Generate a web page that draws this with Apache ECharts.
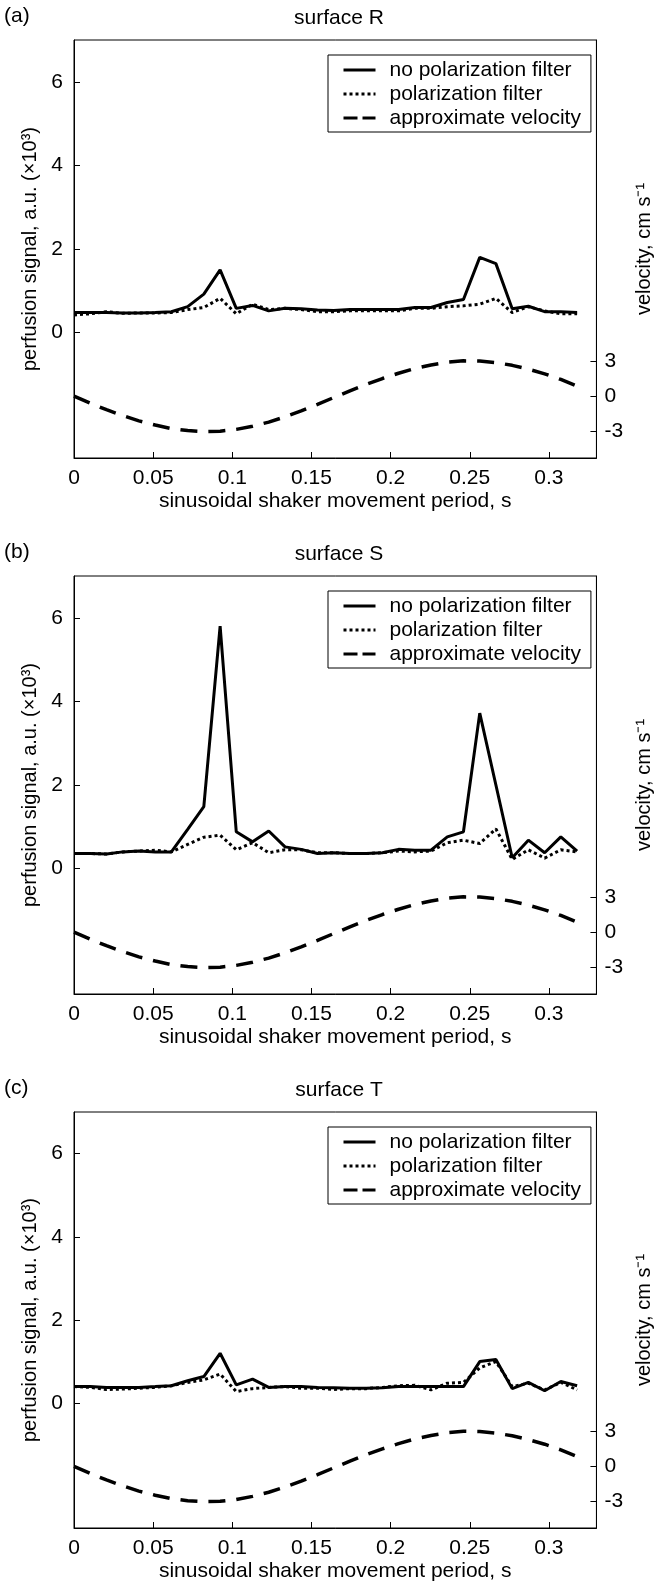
<!DOCTYPE html>
<html>
<head>
<meta charset="utf-8">
<script src="https://cdn.jsdelivr.net/npm/echarts@6/dist/echarts.min.js"></script>
<style>
  html, body { margin: 0; padding: 0; background: #fff; }
  #chart { width: 662px; height: 1583px; }
</style>
</head>
<body>
<div id="chart"></div>
<script>
// sample times of the shaker period (s)
const xValues = [0, 0.0103, 0.0205, 0.0308, 0.041, 0.0513, 0.0615, 0.0718, 0.082, 0.0923,
  0.1025, 0.1128, 0.123, 0.1333, 0.1435, 0.1538, 0.164, 0.1743, 0.1845, 0.1948,
  0.205, 0.2153, 0.2255, 0.2358, 0.246, 0.2563, 0.2665, 0.2768, 0.287, 0.2973, 0.3075, 0.3178];

// approximate velocity, cm/s (same in every panel)
const velocity = [0, -0.6, -1.15, -1.65, -2.1, -2.45, -2.75, -2.92, -3.0, -2.97,
  -2.82, -2.55, -2.2, -1.75, -1.25, -0.7, -0.12, 0.45, 1.0, 1.5,
  1.95, 2.35, 2.65, 2.88, 3.0, 2.98, 2.85, 2.62, 2.3, 1.9, 1.42, 0.85];

// surface R
const noFilterR = [0.48, 0.48, 0.48, 0.47, 0.47, 0.48, 0.5, 0.62, 0.92, 1.5,
  0.58, 0.65, 0.52, 0.58, 0.57, 0.54, 0.53, 0.55, 0.55, 0.55,
  0.55, 0.6, 0.6, 0.72, 0.79, 1.8, 1.65, 0.57, 0.63, 0.5, 0.5, 0.48];
const filterR = [0.42, 0.45, 0.5, 0.46, 0.47, 0.47, 0.48, 0.55, 0.6, 0.82,
  0.45, 0.68, 0.55, 0.58, 0.55, 0.5, 0.5, 0.52, 0.52, 0.52,
  0.52, 0.58, 0.58, 0.62, 0.64, 0.68, 0.82, 0.48, 0.62, 0.52, 0.45, 0.45];

// surface S
const noFilterS = [0.36, 0.36, 0.35, 0.4, 0.42, 0.4, 0.4, 0.94, 1.48, 5.8,
  0.88, 0.64, 0.9, 0.52, 0.46, 0.36, 0.38, 0.36, 0.36, 0.38,
  0.46, 0.44, 0.44, 0.76, 0.88, 3.72, 2.0, 0.26, 0.68, 0.38, 0.76, 0.42];
const filterS = [0.36, 0.36, 0.35, 0.4, 0.42, 0.44, 0.4, 0.58, 0.75, 0.8,
  0.45, 0.62, 0.38, 0.45, 0.45, 0.38, 0.38, 0.36, 0.36, 0.38,
  0.42, 0.4, 0.42, 0.62, 0.68, 0.6, 0.95, 0.22, 0.45, 0.25, 0.45, 0.4];

// surface T
const noFilterT = [0.4, 0.4, 0.38, 0.38, 0.38, 0.4, 0.42, 0.54, 0.64, 1.2,
  0.44, 0.58, 0.38, 0.4, 0.4, 0.38, 0.37, 0.36, 0.36, 0.37,
  0.4, 0.4, 0.4, 0.4, 0.4, 1.0, 1.05, 0.35, 0.5, 0.3, 0.52, 0.42];
const filterT = [0.4, 0.38, 0.33, 0.34, 0.36, 0.38, 0.42, 0.5, 0.56, 0.7,
  0.28, 0.35, 0.38, 0.4, 0.36, 0.36, 0.33, 0.35, 0.35, 0.38,
  0.42, 0.43, 0.32, 0.48, 0.5, 0.85, 1.0, 0.4, 0.48, 0.32, 0.5, 0.32];

// tick labels
const xTicks = [0, 0.05, 0.1, 0.15, 0.2, 0.25, 0.3];
const leftTicks = [0, 2, 4, 6];
const rightTicks = [-3, 0, 3];

const seriesNames = ['no polarization filter', 'polarization filter', 'approximate velocity'];

const panels = [
  { letter: '(a)', title: 'surface R', noFilter: noFilterR, filter: filterR },
  { letter: '(b)', title: 'surface S', noFilter: noFilterS, filter: filterS },
  { letter: '(c)', title: 'surface T', noFilter: noFilterT, filter: filterT }
];

const FONT = 'Liberation Sans';
const gridTops = [40, 576, 1112];
const gridLeft = 74, gridWidth = 530, gridHeight = 418;

const txt = { color: '#000', fontFamily: FONT, fontSize: 21 };
const nameTxt = { color: '#000', fontFamily: FONT, fontSize: 20 };

function pairs(arr) {
  return xValues.map((x, i) => [x, arr[i]]);
}

const chart = echarts.init(document.getElementById('chart'));

const option = {
  backgroundColor: '#fff',
  animation: false,
  title: [],
  legend: [],
  grid: [],
  xAxis: [],
  yAxis: [],
  series: []
};

panels.forEach((p, k) => {
  const top = gridTops[k];
  option.title.push({
    text: p.title, left: gridLeft + gridWidth / 2, top: top - 32, textAlign: 'center',
    padding: 0, textStyle: Object.assign({ fontWeight: 'normal' }, txt)
  });
  option.title.push({
    text: p.letter, left: 4, top: top - 34, padding: 0,
    textStyle: Object.assign({ fontWeight: 'normal' }, txt)
  });
  option.grid.push({
    left: gridLeft, top: top, width: gridWidth, height: gridHeight,
    show: true, borderColor: '#000', borderWidth: 1, backgroundColor: 'transparent'
  });
  // legend box in the upper right corner of each panel
  option.legend.push({
    data: [
      seriesNames[0],
      seriesNames[1],
      { name: seriesNames[2], lineStyle: { type: [14, 5] } }
    ],
    orient: 'vertical', left: 328, top: top + 15,
    itemWidth: 32, itemHeight: 14, itemGap: 2, padding: [4, 10, 3, 14],
    borderColor: '#000', borderWidth: 1, backgroundColor: '#fff',
    selectedMode: false,
    itemStyle: { opacity: 0 },
    lineStyle: { width: 3 },
    textStyle: Object.assign({ padding: [0, 0, 0, 9], lineHeight: 22 }, txt)
  });
  option.xAxis.push({
    type: 'value', gridIndex: k, min: 0, max: 0.33,
    name: 'sinusoidal shaker movement period, s', nameLocation: 'middle', nameGap: 33,
    nameTextStyle: txt,
    axisLine: { show: true, onZero: false, lineStyle: { color: '#000', width: 1 } },
    axisTick: { show: true, inside: true, length: 6, customValues: xTicks, lineStyle: { color: '#000' } },
    axisLabel: Object.assign({ customValues: xTicks, margin: 10, formatter: v => String(+v.toFixed(2)) }, txt),
    splitLine: { show: false }
  });
  option.yAxis.push({
    type: 'value', gridIndex: k, position: 'left', min: -3, max: 7,
    name: 'perfusion signal, a.u. (×10³)', nameLocation: 'middle', nameRotate: 90, nameGap: 32,
    nameTextStyle: nameTxt,
    axisLine: { show: true, onZero: false, lineStyle: { color: '#000', width: 1 } },
    axisTick: { show: true, inside: true, length: 6, customValues: leftTicks, lineStyle: { color: '#000' } },
    axisLabel: Object.assign({ customValues: leftTicks, margin: 11 }, txt),
    splitLine: { show: false }
  });
  option.yAxis.push({
    type: 'value', gridIndex: k, position: 'right', min: -5.25, max: 30.25,
    name: 'velocity, cm s⁻¹', nameLocation: 'middle', nameRotate: 90, nameGap: 30,
    nameTextStyle: nameTxt,
    axisLine: { show: true, onZero: false, lineStyle: { color: '#000', width: 1 } },
    axisTick: { show: true, inside: true, length: 6, customValues: rightTicks, lineStyle: { color: '#000' } },
    axisLabel: Object.assign({ customValues: rightTicks, margin: 8 }, txt),
    splitLine: { show: false }
  });
  const base = { type: 'line', xAxisIndex: k, symbol: 'none', silent: true };
  option.series.push(Object.assign({}, base, {
    name: seriesNames[0], yAxisIndex: 2 * k, data: pairs(p.noFilter), z: 3,
    lineStyle: { color: '#000', width: 3, type: 'solid' }, itemStyle: { color: '#000' }
  }));
  option.series.push(Object.assign({}, base, {
    name: seriesNames[1], yAxisIndex: 2 * k, data: pairs(p.filter), z: 2,
    lineStyle: { color: '#000', width: 3, type: [3, 3] }, itemStyle: { color: '#000' }
  }));
  option.series.push(Object.assign({}, base, {
    name: seriesNames[2], yAxisIndex: 2 * k + 1, data: pairs(velocity),
    lineStyle: { color: '#000', width: 3.5, type: [17, 11] }, itemStyle: { color: '#000' }
  }));
});

chart.setOption(option);
</script>
</body>
</html>
